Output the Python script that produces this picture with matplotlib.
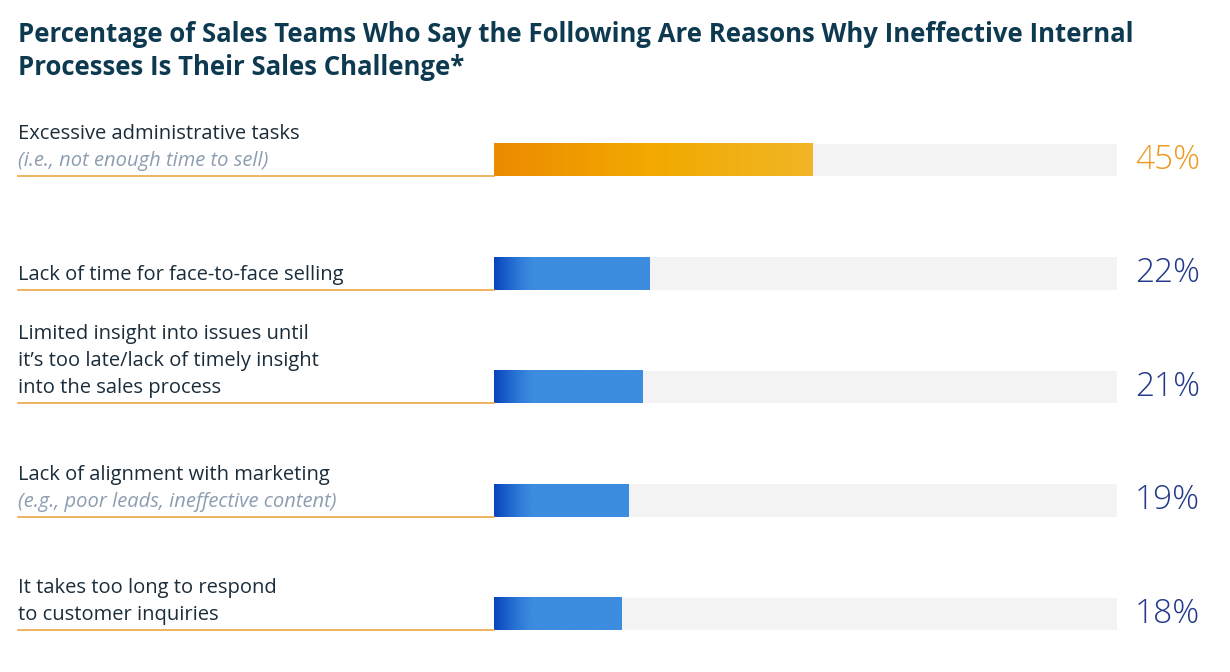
import numpy as np
import matplotlib.pyplot as plt
from matplotlib.colors import LinearSegmentedColormap, to_rgb
from matplotlib.transforms import blended_transform_factory

# data
labels = [
    ["Excessive administrative tasks"],
    ["Lack of time for face-to-face selling"],
    ["Limited insight into issues until", "it\u2019s too late/lack of timely insight", "into the sales process"],
    ["Lack of alignment with marketing"],
    ["It takes too long to respond", "to customer inquiries"],
]
notes = ["(i.e., not enough time to sell)", "", "", "(e.g., poor leads, ineffective content)", ""]
values = [45, 22, 21, 19, 18]
track_max = 88

title = ("Percentage of Sales Teams Who Say the Following Are Reasons Why Ineffective Internal\n"
         "Processes Is Their Sales Challenge*")

plt.rcParams['font.family'] = ['Open Sans', 'DejaVu Sans']

fig = plt.figure(figsize=(12.3, 6.72), dpi=100)
W, H = 1230, 672
ax = fig.add_axes([494 / W, 1 - 670.75 / H, 623 / W, 567.5 / H])

bar_h = 0.282
ypos = np.arange(len(values))

orange = LinearSegmentedColormap.from_list("o", ["#ec8a00", "#f3aa00", "#f0b526"])
blue_a, blue_b = np.array(to_rgb("#0743bd")), np.array(to_rgb("#3c8ce0"))

ax.barh(ypos, [track_max] * len(values), height=bar_h, color="#f3f3f3", zorder=1)

for i, v in enumerate(values):
    xs = np.linspace(0, v, 300)
    if i == 0:
        img = orange(xs / v)[None, :, :3]
    else:
        t = np.clip(xs / 5.5, 0, 1)[:, None]
        img = (blue_a * (1 - t) ** 1.3 + blue_b * (1 - (1 - t) ** 1.3))[None, :, :]
    ax.imshow(img, extent=(0, v, i + bar_h / 2, i - bar_h / 2), aspect="auto",
              interpolation="bilinear", zorder=2)

ax.set_xlim(0, track_max)
ax.set_ylim(len(values) - 0.5, -0.5)
ax.axis("off")

tr = blended_transform_factory(fig.transFigure, ax.transData)
tr_pct = blended_transform_factory(ax.transAxes, ax.transData)
x_left = 18 / W

for i, v in enumerate(values):
    bottom = i + bar_h / 2
    ax.plot([x_left, 494 / W], [bottom, bottom], transform=tr, color="#eaa845",
            lw=1.2, clip_on=False, zorder=3)
    lines = list(labels[i])
    styles = ["n"] * len(lines)
    if notes[i]:
        lines.append(notes[i])
        styles.append("i")
    n = len(lines)
    for k, (txt, st) in enumerate(zip(lines, styles)):
        off = 10 + (n - 1 - k) * 27
        if st == "i":
            ax.annotate(txt, xy=(x_left, bottom), xycoords=tr, xytext=(0, off),
                        textcoords="offset pixels", va="baseline", ha="left",
                        fontsize=14.5, style="italic", color="#8d9db1")
        else:
            ax.annotate(txt, xy=(x_left, bottom), xycoords=tr, xytext=(0, off),
                        textcoords="offset pixels", va="baseline", ha="left",
                        fontsize=14.5, color="#1b2d3b")
    ax.text(1 + 83 / 623, i, f"{v}%", transform=tr_pct, ha="right", va="center",
            fontsize=24, fontweight="light",
            color="#ee9a22" if i == 0 else "#23398a")

fig.text(18 / W, 1 - 21 / H, title, ha="left", va="top", fontsize=18.5,
         fontweight="bold", color="#0d3a50", linespacing=1.3)

fig.savefig("out.png", dpi=100)
